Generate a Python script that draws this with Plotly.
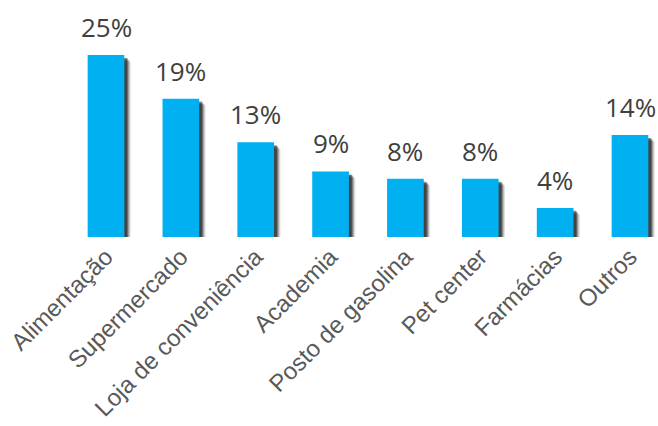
import plotly.graph_objects as go

categories = ["Alimentação", "Supermercado", "Loja de conveniência", "Academia",
              "Posto de gasolina", "Pet center", "Farmácias", "Outros"]
values = [25, 19, 13, 9, 8, 8, 4, 14]
value_labels = ["25%", "19%", "13%", "9%", "8%", "8%", "4%", "14%"]

positions = list(range(len(categories)))
bar_width = 0.49

fig = go.Figure()

# soft drop shadow: stacked translucent offsets to the lower right
shadow_layers = [(0.085, 0.9, 0.12), (0.07, 0.75, 0.18), (0.058, 0.62, 0.25),
                 (0.047, 0.5, 0.32), (0.036, 0.4, 0.4)]
for dx, dy, op in shadow_layers:
    fig.add_trace(go.Bar(
        x=[p + dx for p in positions],
        y=[v for v in values],
        base=[-dy] * len(values),
        width=bar_width,
        marker=dict(color="#111111", line=dict(width=0)),
        opacity=op,
        hoverinfo="skip",
        showlegend=False,
    ))

fig.add_trace(go.Bar(
    x=positions,
    y=values,
    width=bar_width,
    marker=dict(color="#00B0F0", line=dict(width=0)),
    hoverinfo="skip",
    showlegend=False,
))

# value labels above each bar
for p, v, lbl in zip(positions, values, value_labels):
    fig.add_annotation(
        x=p, y=v, text=lbl, showarrow=False,
        yanchor="middle", yshift=28,
        font=dict(family="Open Sans", size=26, color="#404040"),
    )

fig.update_layout(
    width=658, height=426,
    margin=dict(l=0, r=0, t=0, b=189),
    plot_bgcolor="white", paper_bgcolor="white",
    barmode="overlay",
    xaxis=dict(
        range=[-1.416, 7.374],
        tickmode="array", tickvals=positions, ticktext=categories,
        tickangle=-45,
        tickfont=dict(family="Liberation Sans", size=24, color="#595959"),
        showgrid=False, zeroline=False, showline=False, ticks="",
    ),
    yaxis=dict(range=[0, 32.55], visible=False),
)

fig.write_html("out.html")
